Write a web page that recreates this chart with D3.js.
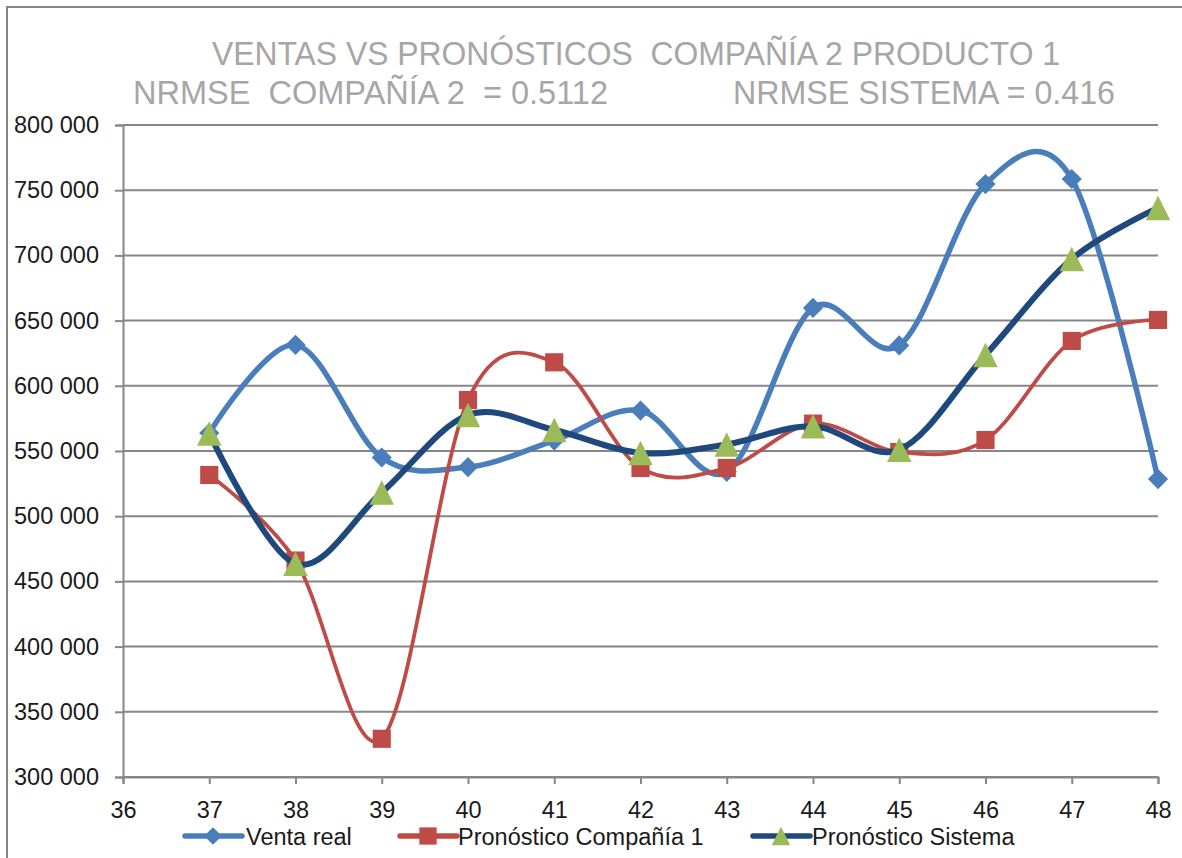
<!DOCTYPE html>
<html>
<head>
<meta charset="utf-8">
<script src="https://cdn.jsdelivr.net/npm/d3@7"></script>
<style>
  body { margin: 0; background: #fff; }
  .title { fill: #a6a6a6; font-family: "Liberation Sans Narrow", "Arial Narrow", "Liberation Sans", sans-serif; font-size: 34px; white-space: pre; }
  .tick-label { fill: #1a1a1a; font-family: "Liberation Sans", Arial, sans-serif; font-size: 23.5px; }
  .legend-label { fill: #1a1a1a; font-family: "Liberation Sans", Arial, sans-serif; font-size: 23.5px; }
</style>
</head>
<body>
<svg id="chart" width="1182" height="858"></svg>
<script>
// Weeks on the x axis and the three series
var weeks = [37, 38, 39, 40, 41, 42, 43, 44, 45, 46, 47, 48];
var ventaReal = [563800, 631400, 545000, 537700, 558000, 581000, 534000, 659700, 631000, 754700, 758600, 528500];
var pronosticoCompania = [531600, 466000, 329300, 589100, 618000, 537000, 537000, 571000, 549200, 558400, 634400, 650500];
var pronosticoSistema = [563500, 463500, 518200, 577600, 566100, 548500, 555000, 569000, 551000, 623600, 697200, 736300];

var seriesNames = ["Venta real", "Pronóstico Compañía 1", "Pronóstico Sistema"];
var xTicks = [36, 37, 38, 39, 40, 41, 42, 43, 44, 45, 46, 47, 48];
var yTicks = [300000, 350000, 400000, 450000, 500000, 550000, 600000, 650000, 700000, 750000, 800000];

var titleLine1 = "VENTAS VS PRONÓSTICOS  COMPAÑÍA 2 PRODUCTO 1";
var titleLine2a = "NRMSE  COMPAÑÍA 2  = 0.5112";
var titleLine2b = "NRMSE SISTEMA = 0.416";

var svg = d3.select("#chart");
var gridColor = "#868686";

var x = d3.scaleLinear().domain([36, 48]).range([123, 1158]);
var y = d3.scaleLinear().domain([300000, 800000]).range([777, 125]);

// Outer chart border (cut off at the right and bottom edges)
svg.append("rect")
  .attr("x", 7).attr("y", 7)
  .attr("width", 1300).attr("height", 1000)
  .attr("fill", "none")
  .attr("stroke", gridColor)
  .attr("stroke-width", 2);

// Title, squeezed to the widths seen in the picture
svg.append("text").attr("class", "title")
  .attr("x", 212).attr("y", 65)
  .attr("textLength", 848).attr("lengthAdjust", "spacingAndGlyphs")
  .text(titleLine1);
svg.append("text").attr("class", "title")
  .attr("x", 133).attr("y", 104)
  .attr("textLength", 475).attr("lengthAdjust", "spacingAndGlyphs")
  .text(titleLine2a);
svg.append("text").attr("class", "title")
  .attr("x", 733).attr("y", 104)
  .attr("textLength", 382).attr("lengthAdjust", "spacingAndGlyphs")
  .text(titleLine2b);

// Horizontal gridlines
svg.append("g")
  .selectAll("line")
  .data(yTicks)
  .enter().append("line")
  .attr("x1", x(36)).attr("x2", x(48))
  .attr("y1", function(d) { return y(d); })
  .attr("y2", function(d) { return y(d); })
  .attr("stroke", gridColor)
  .attr("stroke-width", 2);

var fmt = d3.formatLocale({decimal: ",", thousands: " ", grouping: [3], currency: ["", ""]}).format(",d");

// Y axis
var yAxis = svg.append("g")
  .attr("transform", "translate(" + x(36) + ",0)")
  .call(d3.axisLeft(y).tickValues(yTicks).tickSize(8).tickPadding(16).tickFormat(fmt));

// X axis
var xAxis = svg.append("g")
  .attr("transform", "translate(0," + y(300000) + ")")
  .call(d3.axisBottom(x).tickValues(xTicks).tickSize(7).tickPadding(17).tickFormat(d3.format("d")));

[yAxis, xAxis].forEach(function(axis) {
  axis.attr("font-size", null).attr("font-family", null);
  axis.select(".domain").attr("stroke", gridColor).attr("stroke-width", 2);
  axis.selectAll(".tick line").attr("stroke", gridColor).attr("stroke-width", 2);
  axis.selectAll(".tick text")
    .attr("class", "tick-label")
    .attr("fill", null);
});

// Excel style triangle: as tall as it is wide, centred on the point
var symbolTriangleTall = {
  draw: function(context, size) {
    var h = Math.sqrt(size) / 2;
    context.moveTo(0, -h);
    context.lineTo(h, h);
    context.lineTo(-h, h);
    context.closePath();
  }
};

// Smooth lines like the spreadsheet ones
var line = d3.line()
  .x(function(d) { return x(d[0]); })
  .y(function(d) { return y(d[1]); })
  .curve(d3.curveCardinal.tension(0));

var series = [
  {name: seriesNames[0], values: ventaReal, stroke: "#4a7ebb", width: 5.5, marker: d3.symbolDiamond2, markerSize: 260, fill: "#4a7ebb"},
  {name: seriesNames[1], values: pronosticoCompania, stroke: "#be4b48", width: 3.8, marker: d3.symbolSquare2, markerSize: 420, fill: "#be4b48"},
  {name: seriesNames[2], values: pronosticoSistema, stroke: "#1f497d", width: 6, marker: symbolTriangleTall, markerSize: 600, fill: "#9bbb59"}
];

series.forEach(function(s) {
  var pts = weeks.map(function(w, i) { return [w, s.values[i]]; });
  var g = svg.append("g");

  g.append("path")
    .datum(pts)
    .attr("d", line)
    .attr("fill", "none")
    .attr("stroke", s.stroke)
    .attr("stroke-width", s.width)
    .attr("stroke-linejoin", "round");

  g.selectAll("path.marker")
    .data(pts)
    .enter().append("path")
    .attr("class", "marker")
    .attr("d", d3.symbol().type(s.marker).size(s.markerSize))
    .attr("transform", function(d) {
      return "translate(" + x(d[0]) + "," + y(d[1]) + ")";
    })
    .attr("fill", s.fill);
});

// Legend below the x axis
var legendItems = [
  {x: 185, textX: 246},
  {x: 400, textX: 458},
  {x: 753, textX: 812}
];
var legendSizes = [200, 380, 340];
var legendY = 836;

legendItems.forEach(function(item, i) {
  var s = series[i];
  var g = svg.append("g");
  g.append("line")
    .attr("x1", item.x).attr("x2", item.x + 57)
    .attr("y1", legendY).attr("y2", legendY)
    .attr("stroke", s.stroke)
    .attr("stroke-width", 5.5)
    .attr("stroke-linecap", "round");
  g.append("path")
    .attr("d", d3.symbol().type(s.marker).size(legendSizes[i]))
    .attr("transform", "translate(" + (item.x + 28) + "," + legendY + ")")
    .attr("fill", s.fill);
  g.append("text")
    .attr("class", "legend-label")
    .attr("x", item.textX)
    .attr("y", legendY + 8.5)
    .text(s.name);
});
</script>
</body>
</html>
